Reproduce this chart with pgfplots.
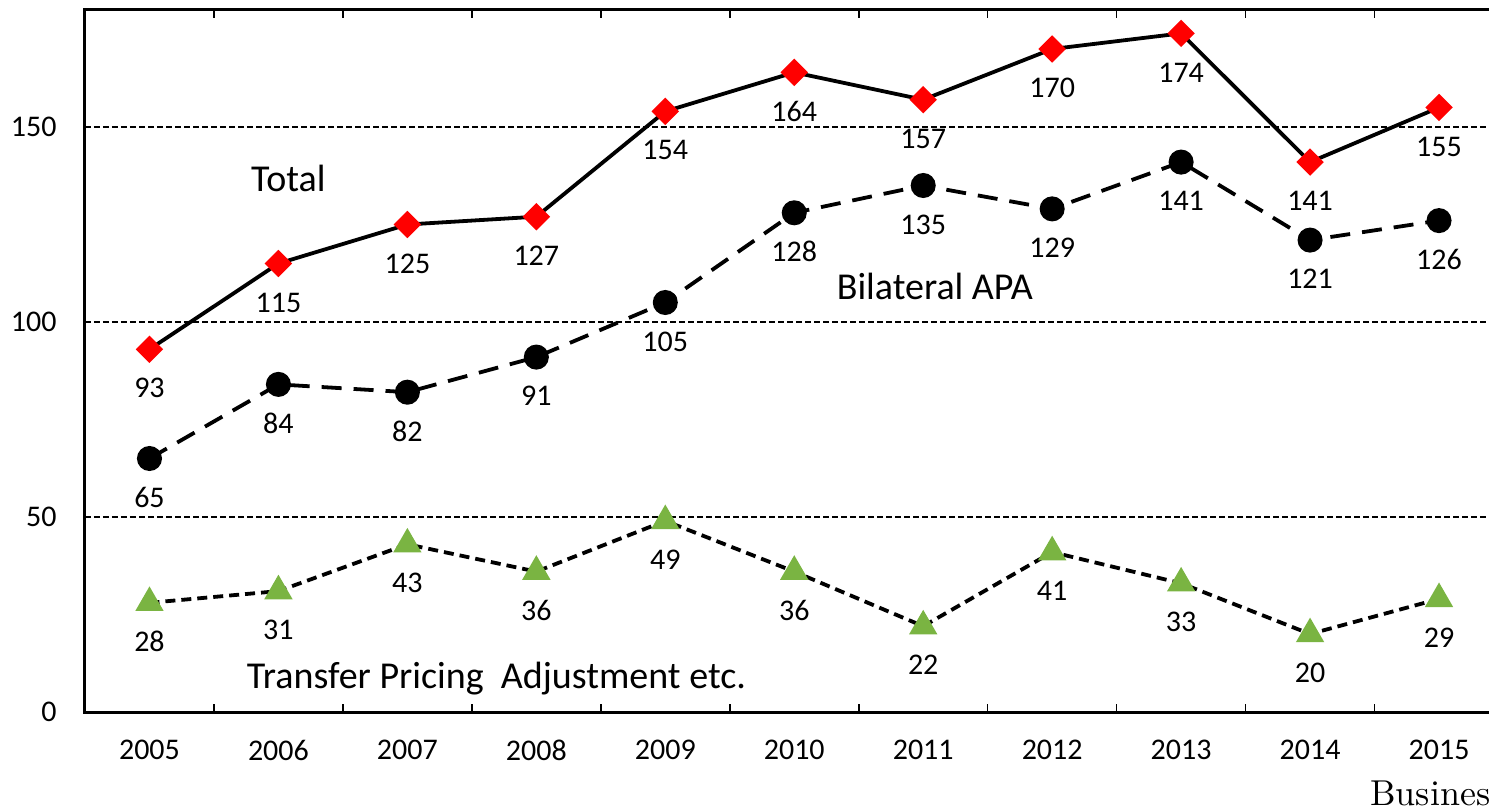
\documentclass[border=0pt]{standalone}
\usepackage{fontspec}
\usepackage{pgfplots}
\pgfplotsset{compat=1.18}
\newfontfamily\carlito{Carlito}
\newfontfamily\lmten{lmroman10-regular.otf}
\definecolor{totred}{RGB}{255,0,0}
\definecolor{tpgreen}{RGB}{122,180,66}

\begin{document}
\begin{tikzpicture}
\begin{axis}[
  scale only axis, width=709.25pt, height=351pt,
  xmin=-0.5, xmax=10.5, ymin=0, ymax=180,
  clip=false,
  axis line style={line width=1.5pt},
  xtick={0,...,10},
  xticklabels={2005,2006,2007,2008,2009,2010,2011,2012,2013,2014,2015},
  ytick={0,50,100,150},
  major tick length=0pt,
  extra x ticks={0.5,1.5,...,9.5},
  extra x tick labels={},
  extra x tick style={tick align=inside, major tick length=4pt,
    tick style={black, line width=0.8pt}},
  ymajorgrids,
  y grid style={black, line width=0.6pt, dash pattern=on 3pt off 1.5pt},
  /pgf/number format/assume math mode=true,
  tick label style={font=\carlito\fontsize{15}{18}\selectfont},
  yticklabel style={inner sep=0pt, xshift=-14pt},
  xticklabel style={inner sep=0pt, yshift=-14pt, anchor=north},
  nodes near coords,
  every node near coord/.append style={font=\carlito\fontsize{15}{18}\selectfont,
    anchor=center, yshift=-19.5pt, black},
]
% Total
\addplot[black, line width=1.9pt, mark=square*, mark size=3.9pt,
  mark options={solid, totred, rotate=45}] coordinates {
  (0,93) (1,115) (2,125) (3,127) (4,154) (5,164) (6,157) (7,170) (8,174) (9,141) (10,155)};
% Bilateral APA
\addplot[black, line width=1.9pt, dash pattern=on 10pt off 6pt, mark=*, mark size=5.3pt,
  mark options={solid, black}] coordinates {
  (0,65) (1,84) (2,82) (3,91) (4,105) (5,128) (6,135) (7,129) (8,141) (9,121) (10,126)};
% Transfer pricing adjustment
\addplot[black, line width=1.9pt, dash pattern=on 5pt off 3pt, mark=triangle*, mark size=6.3pt,
  mark options={solid, tpgreen}] coordinates {
  (0,28) (1,31) (2,43) (3,36) (4,49) (5,36) (6,22) (7,41) (8,33) (9,20) (10,29)};

\node[font=\carlito\fontsize{19}{22}\selectfont] at (axis cs:1.077,136.7) {Total};
\node[font=\carlito\fontsize{19}{22}\selectfont] at (axis cs:6.09,109.2) {Bilateral APA};
\node[font=\carlito\fontsize{19}{22}\selectfont] at (axis cs:2.69,8.5) {Transfer Pricing\ \ Adjustment etc.};
\coordinate (O) at (rel axis cs:0,0);
\end{axis}
\node[anchor=base west, inner sep=0pt, font=\lmten\fontsize{18}{21}\selectfont] at ([xshift=642.5pt, yshift=-46.5pt]O) {Business};
\pgfresetboundingbox
\path[use as bounding box] ([xshift=-42.5pt, yshift=-48.5pt]O) rectangle ([xshift=702pt, yshift=356pt]O);
\end{tikzpicture}
\end{document}
